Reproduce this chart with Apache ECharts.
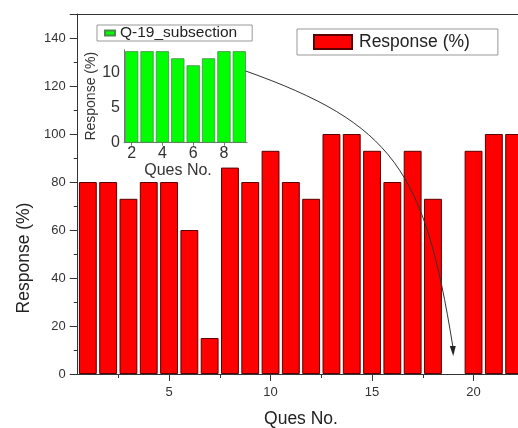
<!DOCTYPE html>
<html><head><meta charset="utf-8">
<script src="https://cdn.jsdelivr.net/npm/echarts@6/dist/echarts.min.js"></script>
<style>html,body{margin:0;padding:0;background:#fff}#c{width:518px;height:428px}</style>
</head><body><div id="c"></div>
<script>
// ---- data ----
const quesNo = ['1','2','3','4','5','6','7','8','9','10','11','12','13','14','15','16','17','18','19','20','21','22'];
const responsePct = [80,80,73,80,80,60,15,86,80,93,80,73,100,100,93,80,93,73,null,93,100,100];
const subQuesNo = ['2','3','4','5','6','7','8','9'];
const subResponse = [13,13,13,12,11,12,13,13];

const FONT = '"Liberation Sans", Arial, sans-serif';
const chart = echarts.init(document.getElementById('c'), null, {renderer:'canvas'});

const option = {
  animation:false,
  backgroundColor:'#fff',
  textStyle:{fontFamily:FONT},
  grid:[
    {left:77.7, top:14, right:-6.3, bottom:54, containLabel:false, outerBoundsMode:'none'},
    {left:124, top:49.8, width:123, height:92.9, containLabel:false, outerBoundsMode:'none'}
  ],
  legend:[
    {data:[{name:'Response (%)', icon:'rect'}], selectedMode:false, left:297, top:29,
     padding:[4,28,4,16], itemWidth:38, itemHeight:14, borderColor:'#999', borderWidth:1,
     backgroundColor:'#fff', textStyle:{fontSize:17.5, color:'#222', fontFamily:FONT, padding:[0,0,0,2]}},
    {data:[{name:'Q-19_subsection', icon:'rect'}], selectedMode:false, left:97, top:25,
     padding:[0,15,0,7], itemWidth:10, itemHeight:5, borderColor:'#999', borderWidth:1,
     backgroundColor:'#fff', textStyle:{fontSize:15.5, color:'#222', fontFamily:FONT}}
  ],
  xAxis:[
    {type:'category', gridIndex:0, data:quesNo, position:'bottom',
     axisLine:{show:true, onZero:false, lineStyle:{color:'#333', width:1}},
     axisTick:{show:true, alignWithLabel:true, interval:(i)=>i%5===4, length:7, lineStyle:{color:'#333'}},
     axisLabel:{interval:(i)=>i%5===4, margin:12, fontSize:13, color:'#333', fontFamily:FONT},
     splitLine:{show:false},
     name:'Ques No.', nameLocation:'middle', nameGap:36,
     nameTextStyle:{fontSize:17.5, color:'#222', fontFamily:FONT}},
    {type:'category', gridIndex:0, data:quesNo, position:'bottom',
     axisLine:{show:false, onZero:false},
     axisTick:{show:true, interval:(i)=>i%5===2, length:4, lineStyle:{color:'#333'}},
     axisLabel:{show:false}, splitLine:{show:false}},
    {type:'category', gridIndex:0, data:quesNo, position:'top',
     axisLine:{show:true, onZero:false, lineStyle:{color:'#333', width:1}},
     axisTick:{show:false}, axisLabel:{show:false}, splitLine:{show:false}},
    {type:'category', gridIndex:1, data:subQuesNo, position:'bottom',
     axisLine:{show:true, onZero:false, lineStyle:{color:'#777', width:1}},
     axisTick:{show:true, alignWithLabel:true, interval:(i)=>i%2===0, length:3, lineStyle:{color:'#777'}},
     axisLabel:{interval:(i)=>i%2===0, margin:3, fontSize:16, color:'#333', fontFamily:FONT},
     splitLine:{show:false},
     name:'Ques No.', nameLocation:'middle', nameGap:19,
     nameTextStyle:{fontSize:16, color:'#333', fontFamily:FONT, padding:[0,15,0,0]}}
  ],
  yAxis:[
    {type:'value', gridIndex:0, min:0, max:150, interval:20,
     axisLine:{show:true, lineStyle:{color:'#333', width:1}},
     axisTick:{show:true, length:8, lineStyle:{color:'#333'}},
     minorTick:{show:true, splitNumber:2, length:4, lineStyle:{color:'#333'}},
     axisLabel:{showMaxLabel:false, margin:12, fontSize:13, color:'#333', fontFamily:FONT},
     splitLine:{show:false},
     name:'Response (%)', nameLocation:'middle', nameRotate:90, nameGap:43,
     nameTextStyle:{fontSize:17.5, color:'#222', fontFamily:FONT, padding:[0,128,0,0]}},
    {type:'value', gridIndex:1, min:0, max:13.2, interval:5,
     axisLine:{show:true, lineStyle:{color:'#777', width:1}},
     axisTick:{show:false},
     axisLabel:{showMaxLabel:false, margin:4, fontSize:16, color:'#333', fontFamily:FONT},
     splitLine:{show:false},
     name:'Response (%)', nameLocation:'middle', nameRotate:90, nameGap:17,
     nameTextStyle:{fontSize:14, color:'#333', fontFamily:FONT}}
  ],
  series:[
    {type:'bar', name:'Response (%)', xAxisIndex:0, yAxisIndex:0,
     data:responsePct.map(v => v == null ? '-' : v), barWidth:'88%',
     itemStyle:{color:'#ff0000', borderColor:'#5a0000', borderWidth:1}},
    {type:'bar', name:'Q-19_subsection', xAxisIndex:3, yAxisIndex:1,
     data:subResponse, barWidth:'86%',
     itemStyle:{color:'#00ff00', borderColor:'#4a8a4a', borderWidth:0.8}}
  ]
};
chart.setOption(option);

// annotation arrow: from inset (right edge) to missing Q-19 bar in main chart
const p9 = chart.convertToPixel({xAxisIndex:3, yAxisIndex:1}, [7, 10.2]);
const p8 = chart.convertToPixel({xAxisIndex:3, yAxisIndex:1}, [6, 10.2]);
const start = [p9[0] + 0.4*(p9[0]-p8[0]), p9[1]];
const tip = chart.convertToPixel({xAxisIndex:0, yAxisIndex:0}, [18, 7.5]);
const base = [tip[0]-0.5, tip[1]-10];
const dx = base[0]-start[0], dy = base[1]-start[1];
chart.setOption({
  graphic:[
    {type:'bezierCurve', z:100, silent:true,
     shape:{x1:start[0], y1:start[1], x2:base[0], y2:base[1],
            cpx1:start[0]+0.714*dx, cpy1:start[1]+0.192*dy,
            cpx2:start[0]+0.863*dx, cpy2:start[1]+0.359*dy},
     style:{stroke:'#333', lineWidth:1, fill:null}},
    {type:'polygon', z:100, silent:true,
     shape:{points:[[tip[0], tip[1]], [base[0]-3, base[1]], [base[0]+3, base[1]]]},
     style:{fill:'#222'}}
  ]
});
</script></body></html>
